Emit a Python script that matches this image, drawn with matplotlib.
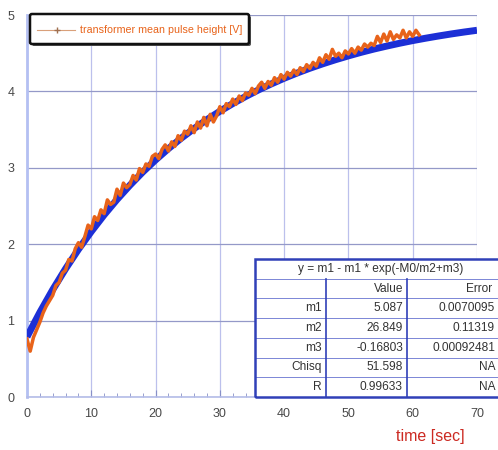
import numpy as np
import matplotlib.pyplot as plt
from matplotlib.patches import Rectangle, FancyBboxPatch

plt.rcParams['font.family'] = ['Liberation Sans', 'DejaVu Sans']

# measured pulse height, sampled every 0.5 s from 0 to 61 s
t_meas = np.arange(0, 61.01, 0.5)
v_meas = [0.76, 0.60, 0.78, 0.88, 0.98, 1.10, 1.19, 1.26, 1.33, 1.46,
          1.50, 1.62, 1.66, 1.80, 1.78, 1.94, 2.02, 1.96, 2.10, 2.25,
          2.20, 2.36, 2.31, 2.45, 2.40, 2.58, 2.52, 2.55, 2.72, 2.64,
          2.80, 2.74, 2.78, 2.90, 2.84, 2.99, 2.94, 3.05, 3.02, 3.15,
          3.18, 3.12, 3.24, 3.30, 3.22, 3.34, 3.28, 3.42, 3.36, 3.48,
          3.44, 3.55, 3.46, 3.60, 3.52, 3.66, 3.55, 3.70, 3.60, 3.68,
          3.80, 3.72, 3.84, 3.80, 3.90, 3.83, 3.94, 3.88, 3.98, 3.95,
          4.04, 3.97, 4.07, 4.12, 4.04, 4.13, 4.08, 4.18, 4.12, 4.22,
          4.16, 4.25, 4.20, 4.28, 4.22, 4.31, 4.26, 4.35, 4.30, 4.38,
          4.33, 4.44, 4.38, 4.48, 4.42, 4.55, 4.46, 4.50, 4.44, 4.53,
          4.49, 4.56, 4.50, 4.58, 4.54, 4.62, 4.58, 4.63, 4.60, 4.72,
          4.64, 4.75, 4.66, 4.78, 4.68, 4.74, 4.70, 4.80, 4.70, 4.78,
          4.72, 4.80, 4.74]

# fitted curve, read every 2 s
t_fit = np.arange(0, 70.01, 2)
v_fit = [0.787, 1.107, 1.404, 1.678, 1.932, 2.166, 2.384, 2.585, 2.771,
         2.944, 3.103, 3.251, 3.388, 3.514, 3.631, 3.740, 3.840, 3.933,
         4.019, 4.098, 4.172, 4.240, 4.303, 4.361, 4.415, 4.465, 4.512,
         4.555, 4.594, 4.631, 4.665, 4.696, 4.725, 4.752, 4.777, 4.800]

fit_title = 'y = m1 - m1 * exp(-M0/m2+m3)'
col_heads = ['', 'Value', 'Error']
row_names = ['m1', 'm2', 'm3', 'Chisq', 'R']
row_values = ['5.087', '26.849', '-0.16803', '51.598', '0.99633']
row_errors = ['0.0070095', '0.11319', '0.00092481', 'NA', 'NA']

W, H = 498, 450
fig = plt.figure(figsize=(W / 100, H / 100), dpi=100)
ax = fig.add_axes([27 / W, 53 / H, 450 / W, 382 / H])

ax.set_xlim(0, 70)
ax.set_ylim(0, 5)
ax.set_xticks(np.arange(0, 71, 10))
ax.set_xticks(np.arange(0, 71, 2), minor=True)
ax.set_yticks(np.arange(0, 6, 1))
ax.xaxis.grid(True, color='#bcc0ec', linewidth=0.9)
ax.yaxis.grid(True, color='#9499c8', linewidth=0.9)
ax.tick_params(axis='both', which='both', direction='in', colors='#8890c8',
               labelcolor='#484848', labelsize=9)
ax.tick_params(axis='x', which='major', length=5, pad=8)
ax.tick_params(axis='x', which='minor', length=3)
ax.tick_params(axis='y', length=0, pad=9)
for s in ['top', 'right']:
    ax.spines[s].set_visible(False)
ax.spines['left'].set_color('#b4c0f2')
ax.spines['left'].set_linewidth(2)
ax.spines['bottom'].set_color('#b4bce8')
ax.spines['bottom'].set_linewidth(1.2)

ax.plot(t_fit, v_fit, color='#1c2fd6', linewidth=5, solid_capstyle='butt',
        zorder=3)
line, = ax.plot(t_meas, v_meas, color='#e8631a', linewidth=2.5, zorder=4,
                label='transformer mean pulse height [V]')

# legend box
fig.patches.append(FancyBboxPatch((32 / W, 1 - 46 / H), 219 / W, 30 / H,
                                  boxstyle='round,pad=0,rounding_size=0.004',
                                  transform=fig.transFigure, facecolor='#555555',
                                  edgecolor='none', zorder=5))
fig.patches.append(FancyBboxPatch((30 / W, 1 - 44 / H), 219 / W, 30 / H,
                                  boxstyle='round,pad=0,rounding_size=0.004',
                                  transform=fig.transFigure, facecolor='white',
                                  edgecolor='#111111', linewidth=1.8, zorder=6))
fig.lines.append(plt.Line2D([37 / W, 75 / W], [1 - 30 / H, 1 - 30 / H],
                            transform=fig.transFigure, color='#d9a07a',
                            linewidth=0.8, zorder=7))
fig.lines.append(plt.Line2D([57 / W], [1 - 30 / H], transform=fig.transFigure,
                            color='#a07050', marker='+', markersize=4,
                            linestyle='none', zorder=7))
fig.text(80 / W, 1 - 30 / H, line.get_label(), color='#e8631a', fontsize=7.7,
         va='center', ha='left', zorder=7)

# fit result table
tx0, ty0 = 255, 259
row_h = 19.7
col_x = [255, 326, 407, 496]
n_rows = 2 + len(row_names)
tab_h = n_rows * row_h
fig.patches.append(Rectangle((tx0 / W, 1 - (ty0 + tab_h) / H), 280 / W,
                             tab_h / H, transform=fig.transFigure,
                             facecolor='white', edgecolor='none', zorder=8))
line_c = '#7b86d6'
for i in range(1, n_rows):
    y = 1 - (ty0 + i * row_h) / H
    fig.lines.append(plt.Line2D([tx0 / W, 1], [y, y], transform=fig.transFigure,
                                color=line_c, linewidth=0.7, zorder=9))
for cx in col_x[1:3]:
    fig.lines.append(plt.Line2D([cx / W, cx / W],
                                [1 - (ty0 + tab_h) / H, 1 - (ty0 + row_h) / H],
                                transform=fig.transFigure, color='#3040b8',
                                linewidth=1.2, zorder=9))
fig.patches.append(Rectangle((tx0 / W, 1 - (ty0 + tab_h) / H), 280 / W,
                             tab_h / H, transform=fig.transFigure,
                             facecolor='none', edgecolor='#3040b8',
                             linewidth=1.8, zorder=10))
txt_kw = dict(fontsize=8.6, color='#333333', va='center', zorder=11)
fig.text(381 / W, 1 - (ty0 + row_h / 2) / H, fit_title, ha='center', **txt_kw)
for j, head in enumerate(col_heads):
    if head:
        fig.text((col_x[j + 1] - 4) / W, 1 - (ty0 + 1.5 * row_h) / H, head,
                 ha='right', **txt_kw)
for i, (nm, val, err) in enumerate(zip(row_names, row_values, row_errors)):
    y = 1 - (ty0 + (i + 2.5) * row_h) / H
    fig.text((col_x[1] - 4) / W, y, nm, ha='right', **txt_kw)
    fig.text((col_x[2] - 4) / W, y, val, ha='right', **txt_kw)
    fig.text((col_x[3] - 1) / W, y, err, ha='right', **txt_kw)

fig.text(430 / W, 1 - 437 / H, 'time [sec]', color='#cc2a22', fontsize=11.5,
         ha='center', va='center')

fig.savefig('out.png', dpi=100)
